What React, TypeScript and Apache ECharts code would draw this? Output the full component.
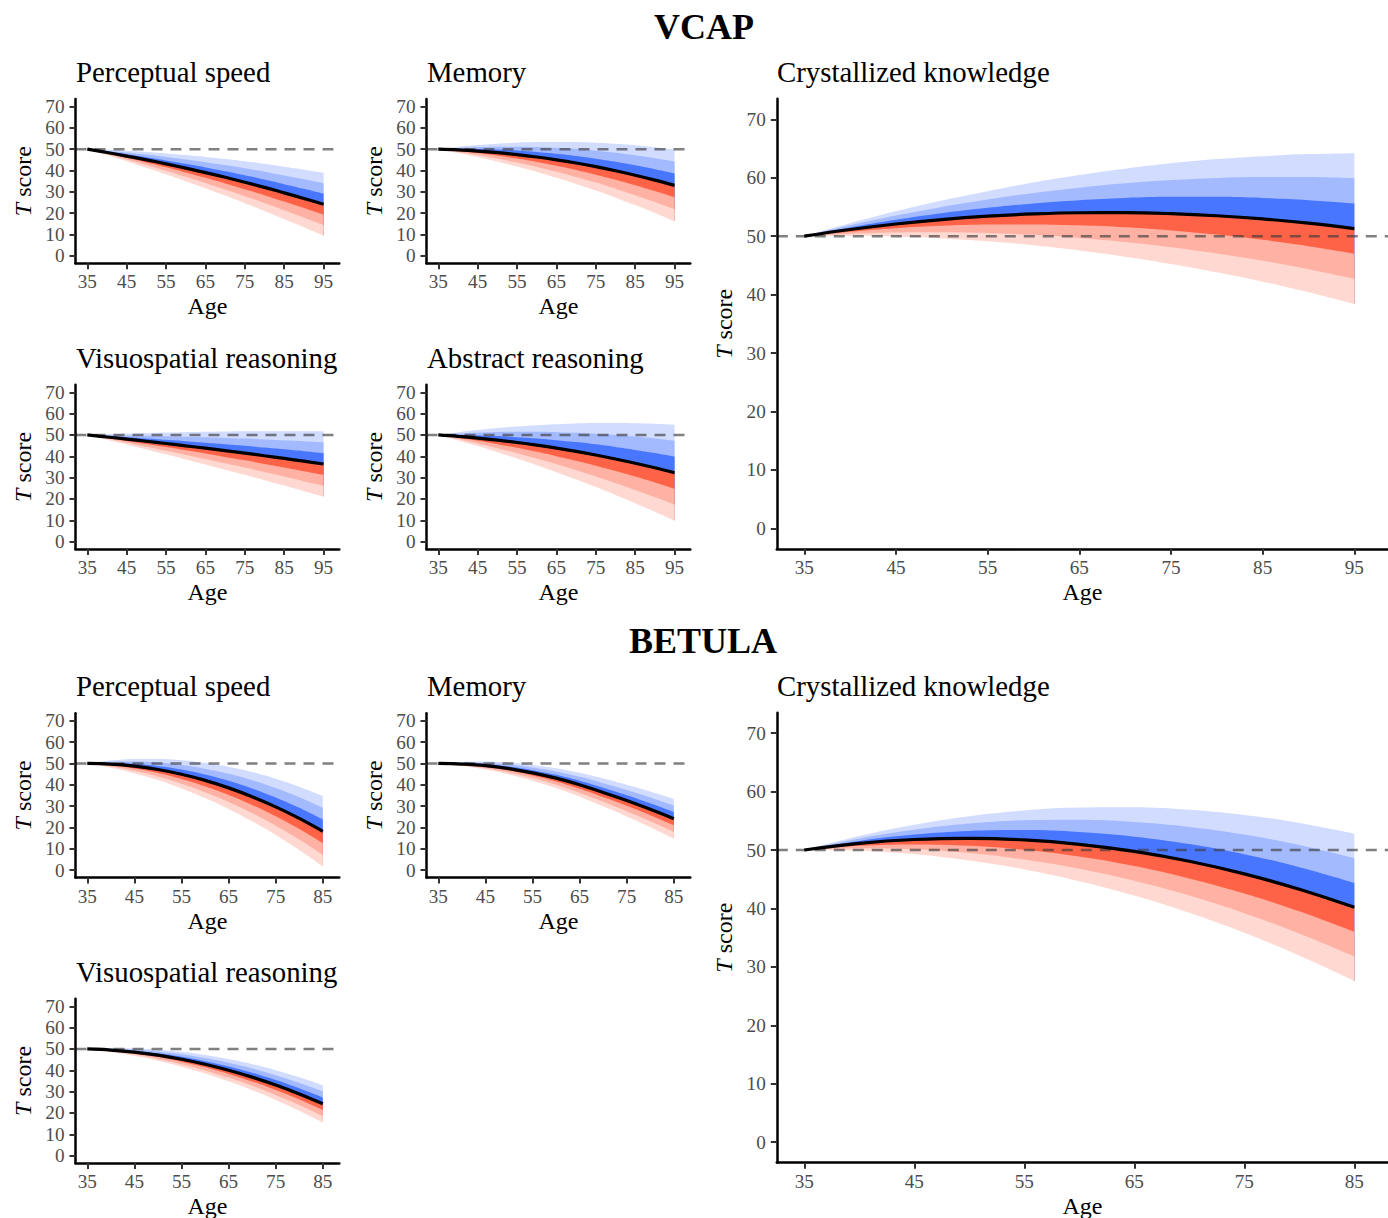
import React, { useEffect, useRef } from "react";
import * as echarts from "echarts";

// ---------- data ----------
const AGES_VCAP = [35, 40, 45, 50, 55, 60, 65, 70, 75, 80, 85, 90, 95];
const AGES_BETULA = [35, 40, 45, 50, 55, 60, 65, 70, 75, 80, 85];
const X_TICKS_VCAP = [35, 45, 55, 65, 75, 85, 95];
const X_TICKS_BETULA = [35, 45, 55, 65, 75, 85];
const Y_TICKS = [0, 10, 20, 30, 40, 50, 60, 70];
const REFERENCE_T = 50;

// mean trajectory and width of one band (each band = one step wide)
const VCAP_PS_MEAN = [50, 48.43, 46.76, 45.0, 43.1, 41.1, 39.0, 36.8, 34.5, 32.1, 29.5, 26.9, 24.2];
const VCAP_PS_STEP = [0, 0.41, 0.82, 1.23, 1.63, 2.04, 2.45, 2.86, 3.27, 3.68, 4.08, 4.49, 4.9];
const VCAP_MEM_MEAN = [50, 49.65, 49.11, 48.38, 47.44, 46.32, 45.0, 43.49, 41.78, 39.87, 37.78, 35.48, 33.0];
const VCAP_MEM_STEP = [0, 0.47, 0.93, 1.4, 1.87, 2.33, 2.8, 3.27, 3.73, 4.2, 4.67, 5.13, 5.6];
const VCAP_VIS_MEAN = [50, 49.05, 48.07, 47.05, 46.0, 44.9, 43.8, 42.65, 41.5, 40.25, 39.0, 37.7, 36.4];
const VCAP_VIS_STEP = [0, 0.43, 0.85, 1.28, 1.7, 2.13, 2.55, 2.98, 3.4, 3.83, 4.25, 4.68, 5.1];
const VCAP_ABS_MEAN = [50, 49.34, 48.53, 47.57, 46.46, 45.21, 43.8, 42.27, 40.58, 38.74, 36.75, 34.62, 32.3];
const VCAP_ABS_STEP = [0, 0.63, 1.25, 1.88, 2.5, 3.13, 3.75, 4.38, 5.0, 5.63, 6.25, 6.88, 7.5];
const VCAP_CK_MEAN = [50, 51.13, 52.08, 52.84, 53.41, 53.8, 54.0, 54.02, 53.85, 53.49, 52.95, 52.22, 51.3];
const VCAP_CK_STEP = [0, 0.36, 0.72, 1.08, 1.43, 1.79, 2.15, 2.51, 2.87, 3.23, 3.58, 3.94, 4.3];

const BETULA_PS_MEAN = [50, 49.68, 48.73, 47.14, 44.91, 42.05, 38.55, 34.42, 29.65, 24.24, 18.2];
const BETULA_PS_STEP = [0, 0.55, 1.1, 1.65, 2.2, 2.75, 3.3, 3.85, 4.4, 4.95, 5.5];
const BETULA_MEM_MEAN = [50, 49.7, 49.0, 47.6, 45.6, 43.1, 40.0, 36.4, 32.6, 28.5, 24.1];
const BETULA_MEM_STEP = [0, 0.31, 0.62, 0.93, 1.24, 1.55, 1.86, 2.17, 2.48, 2.79, 3.1];
const BETULA_VIS_MEAN = [50, 49.48, 48.5, 47.07, 45.18, 42.84, 40.04, 36.79, 33.08, 28.92, 24.3];
const BETULA_VIS_STEP = [0, 0.29, 0.58, 0.87, 1.16, 1.45, 1.74, 2.03, 2.32, 2.61, 2.9];
const BETULA_CK_MEAN = [50, 51.14, 51.8, 52.0, 51.73, 50.98, 49.77, 48.08, 45.92, 43.29, 40.2];
const BETULA_CK_STEP = [0, 0.42, 0.84, 1.26, 1.68, 2.1, 2.52, 2.94, 3.36, 3.78, 4.2];

// ---------- style ----------
const FONT = '"Liberation Serif", "Times New Roman", serif';
const LIGHT_BLUE = "#D1DCFF";
const MED_BLUE = "#A3BAFF";
const DARK_BLUE = "#4876FF";
const DARK_RED = "#FF6347";
const MED_RED = "#FFB1A3";
const LIGHT_RED = "#FFD8D1";
const Y_MIN = -3.5;
const Y_MAX = 73.5;
const SMOOTH = 0.4;

type Panel = {
  title: string;
  ages: number[];
  mean: number[];
  step: number[];
  xTicks: number[];
  xMin: number;
  xMax: number;
  left: number;
  top: number;
  width: number;
  height: number;
  tx: number;
  ty: number;
};

const SW = 263.8;
const SH = 164.3;
const C1 = 75.5;
const C2 = 426.5;
const BL = 776.8;
const BW = 611.2;
const BH = 450;

const PANELS: Panel[] = [
  { title: "Perceptual speed", ages: AGES_VCAP, mean: VCAP_PS_MEAN, step: VCAP_PS_STEP, xTicks: X_TICKS_VCAP, xMin: 32, xMax: 99, left: C1, top: 99, width: SW, height: SH, tx: 76, ty: 71.5 },
  { title: "Memory", ages: AGES_VCAP, mean: VCAP_MEM_MEAN, step: VCAP_MEM_STEP, xTicks: X_TICKS_VCAP, xMin: 32, xMax: 99, left: C2, top: 99, width: SW, height: SH, tx: 427, ty: 71.5 },
  { title: "Visuospatial reasoning", ages: AGES_VCAP, mean: VCAP_VIS_MEAN, step: VCAP_VIS_STEP, xTicks: X_TICKS_VCAP, xMin: 32, xMax: 99, left: C1, top: 384.8, width: SW, height: SH, tx: 76, ty: 357.5 },
  { title: "Abstract reasoning", ages: AGES_VCAP, mean: VCAP_ABS_MEAN, step: VCAP_ABS_STEP, xTicks: X_TICKS_VCAP, xMin: 32, xMax: 99, left: C2, top: 384.8, width: SW, height: SH, tx: 427, ty: 357.5 },
  { title: "Crystallized knowledge", ages: AGES_VCAP, mean: VCAP_CK_MEAN, step: VCAP_CK_STEP, xTicks: X_TICKS_VCAP, xMin: 32, xMax: 32 + BW / 9.167, left: BL, top: 98.8, width: BW, height: BH, tx: 777, ty: 71.5 },
  { title: "Perceptual speed", ages: AGES_BETULA, mean: BETULA_PS_MEAN, step: BETULA_PS_STEP, xTicks: X_TICKS_BETULA, xMin: 32.5, xMax: 88.5, left: C1, top: 713.3, width: SW, height: SH, tx: 76, ty: 685.5 },
  { title: "Memory", ages: AGES_BETULA, mean: BETULA_MEM_MEAN, step: BETULA_MEM_STEP, xTicks: X_TICKS_BETULA, xMin: 32.5, xMax: 88.5, left: C2, top: 713.3, width: SW, height: SH, tx: 427, ty: 685.5 },
  { title: "Visuospatial reasoning", ages: AGES_BETULA, mean: BETULA_VIS_MEAN, step: BETULA_VIS_STEP, xTicks: X_TICKS_BETULA, xMin: 32.5, xMax: 88.5, left: C1, top: 998.8, width: SW, height: SH, tx: 76, ty: 971.5 },
  { title: "Crystallized knowledge", ages: AGES_BETULA, mean: BETULA_CK_MEAN, step: BETULA_CK_STEP, xTicks: X_TICKS_BETULA, xMin: 32.5, xMax: 32.5 + BW / 11, left: BL, top: 712.7, width: BW, height: BH, tx: 777, ty: 685.5 },
];

function buildOption() {
  const grid: any[] = [];
  const xAxis: any[] = [];
  const yAxis: any[] = [];
  const series: any[] = [];
  const graphic: any[] = [];

  PANELS.forEach((p, i) => {
    grid.push({ left: p.left, top: p.top, width: p.width, height: p.height, containLabel: false, outerBoundsMode: "none" });
    xAxis.push({
      type: "value",
      gridIndex: i,
      min: p.xMin,
      max: p.xMax,
      z: 10,
      axisLine: { show: true, onZero: false, lineStyle: { color: "#000", width: 2.5 } },
      axisTick: { show: true, length: 6, lineStyle: { color: "#333", width: 2 }, customValues: p.xTicks },
      axisLabel: { customValues: p.xTicks, margin: 9, color: "#4D4D4D", fontSize: 19.2, fontFamily: FONT },
      splitLine: { show: false },
      name: "Age",
      nameLocation: "middle",
      nameGap: 31,
      nameTextStyle: { fontSize: 24, fontFamily: FONT, color: "#000" },
    });
    yAxis.push({
      type: "value",
      gridIndex: i,
      min: Y_MIN,
      max: Y_MAX,
      z: 10,
      axisLine: { show: true, onZero: false, lineStyle: { color: "#000", width: 2.5 } },
      axisTick: { show: true, length: 6, lineStyle: { color: "#333", width: 2 }, customValues: Y_TICKS },
      axisLabel: { customValues: Y_TICKS, margin: 11, color: "#4D4D4D", fontSize: 19.2, fontFamily: FONT },
      splitLine: { show: false },
      name: "{it|T} score",
      nameLocation: "middle",
      nameRotate: 90,
      nameGap: 41,
      nameTextStyle: {
        fontSize: 24,
        fontFamily: FONT,
        color: "#000",
        rich: { it: { fontSize: 24, fontFamily: FONT, fontStyle: "italic", color: "#000" } },
      },
    });

    // bands painted from the top edge down, each filling to the bottom of the panel
    const layers: [number, string][] = [
      [3, LIGHT_BLUE],
      [2, MED_BLUE],
      [1, DARK_BLUE],
      [0, DARK_RED],
      [-1, MED_RED],
      [-2, LIGHT_RED],
      [-3, "#FFFFFF"],
    ];
    layers.forEach(([k, color]) => {
      series.push({
        type: "line",
        xAxisIndex: i,
        yAxisIndex: i,
        data: p.ages.map((a, n) => [a, p.mean[n] + k * p.step[n]]),
        smooth: SMOOTH,
        symbol: "none",
        silent: true,
        lineStyle: { width: 0, opacity: 0 },
        areaStyle: { color, opacity: 1, origin: "start" },
        z: 2,
      });
    });
    // white cover of the vertical seams under the lowest band edge
    const last = p.ages.length - 1;
    const firstLow = p.mean[0] - 3 * p.step[0];
    const lastLow = p.mean[last] - 3 * p.step[last];
    [
      [p.ages[0], firstLow],
      [p.ages[last], lastLow],
    ].forEach(([a, low]) => {
      series.push({
        type: "line",
        xAxisIndex: i,
        yAxisIndex: i,
        data: [
          [a, Y_MIN],
          [a, low],
        ],
        symbol: "none",
        silent: true,
        lineStyle: { color: "#FFFFFF", width: 1.6 },
        z: 2.5,
      });
    });
    series.push({
      type: "line",
      xAxisIndex: i,
      yAxisIndex: i,
      data: [
        [p.xMin, REFERENCE_T],
        [p.xMax, REFERENCE_T],
      ],
      symbol: "none",
      silent: true,
      lineStyle: { color: "rgba(60,60,60,0.65)", width: 2.5, type: [11, 8] },
      z: 3,
    });
    series.push({
      type: "line",
      xAxisIndex: i,
      yAxisIndex: i,
      data: p.ages.map((a, n) => [a, p.mean[n]]),
      smooth: SMOOTH,
      symbol: "none",
      silent: true,
      lineStyle: { color: "#000", width: 3.2 },
      z: 4,
    });

    graphic.push({
      type: "text",
      x: p.tx,
      y: p.ty,
      style: { text: p.title, fontSize: 28.8, fontFamily: FONT, fill: "#000", align: "left", verticalAlign: "middle" },
    });
  });

  graphic.push({
    type: "text",
    x: 704,
    y: 27,
    style: { text: "VCAP", fontSize: 36, fontWeight: "bold", fontFamily: FONT, fill: "#000", align: "center", verticalAlign: "middle" },
  });
  graphic.push({
    type: "text",
    x: 703,
    y: 641,
    style: { text: "BETULA", fontSize: 36, fontWeight: "bold", fontFamily: FONT, fill: "#000", align: "center", verticalAlign: "middle" },
  });

  return {
    animation: false,
    backgroundColor: "#FFFFFF",
    grid,
    xAxis,
    yAxis,
    series,
    graphic,
  };
}

export default function App() {
  const ref = useRef<HTMLDivElement>(null);
  useEffect(() => {
    if (!ref.current) return;
    const chart = echarts.init(ref.current, null, { renderer: "svg" });
    chart.setOption(buildOption() as any);
    return () => chart.dispose();
  }, []);
  return (
    <div
      ref={ref}
      style={{ position: "fixed", left: 0, top: 0, width: 1388, height: 1218, background: "#fff" }}
    />
  );
}
